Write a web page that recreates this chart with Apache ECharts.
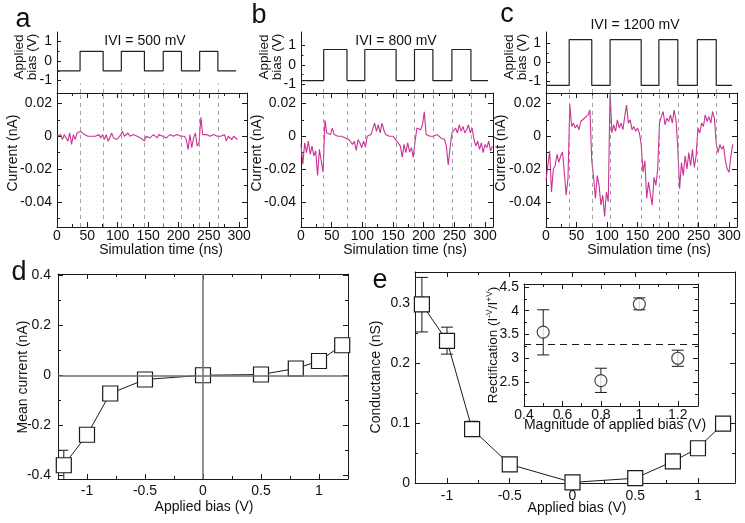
<!DOCTYPE html>
<html>
<head>
<meta charset="utf-8">
<title>Bias pulses, current traces and conductance</title>
<script src="https://cdn.jsdelivr.net/npm/echarts@6/dist/echarts.min.js"></script>
<style>
  html, body { margin: 0; padding: 0; background: #fff; }
  #chart { width: 745px; height: 523px; }
</style>
</head>
<body>
<div id="chart"></div>
<script>
var chart = echarts.init(document.getElementById('chart'));

var FONT = '"Liberation Sans", Arial, Helvetica, sans-serif';
var INK = '#1a1a1a';
var MAGENTA = '#c93394';

// ---- data: current traces (nA), one sample every 3 ns ----
var sampleStep = 3;
var currentA = [
  0, -0.001, 0.001, -0.002, 0.001, 0, -0.003, 0.002, -0.005, 0.001, -0.002, 0.002, 0.001,
  0.003, 0.004, 0.001, 0.002, 0, 0.001, 0, 0.001, 0, 0, 0.001, -0.001,
  0.001, -0.002, 0.001, -0.003, -0.001, 0.002, -0.001, 0, -0.002, -0.003, 0.001,
  0.003, 0, 0.001, 0.002, 0, -0.001, 0.001, 0.002, 0, 0.001, -0.001, 0, -0.003,
  0, 0.001, -0.001, 0, 0.001, 0, -0.001, 0.001, 0, 0,
  0.001, -0.001, 0, 0.001, 0, 0, -0.001, 0.001, 0, 0,
  -0.001, 0, -0.002, -0.008, 0.001, -0.007, -0.001, 0.002, -0.006, -0.004,
  0.0115, 0.001, 0, 0.001, 0, 0, 0, 0.001, 0, 0, 0, 0, -0.001, 0.001, -0.003, 0, 0.001, -0.002, 0, 0.001, -0.002
];
var currentB = [
  -0.005, -0.017, -0.004, -0.01, -0.003, -0.011, -0.006, -0.012, -0.009, -0.024, -0.008, -0.015, -0.022,
  0.0098, 0.002, 0.003, 0.001, 0.005, 0.001, 0.002, 0, 0.001, 0, 0.001, -0.001,
  0, -0.002, -0.001, -0.005, -0.003, -0.0086, -0.002, -0.004, -0.007, -0.003, -0.0066,
  0, 0, 0.001, 0, 0.008, 0.003, 0.007, 0.002, 0.008, 0.004, 0.001, 0, 0, 0.001, 0, 0,
  -0.003, -0.002, -0.006, -0.0127, -0.005, -0.01, -0.004, -0.0096, -0.007, -0.013, -0.003,
  0.005, 0.006, 0.004, 0.007, 0.015, 0.001, 0, 0, 0.001,
  0, -0.001, 0.001, 0, -0.001, 0, -0.002, -0.006, -0.0175, -0.007, 0.002,
  0.003, 0.005, 0.002, 0.007, 0.003, 0.006, 0.002, 0.004, 0.007, 0.002, 0.005,
  -0.002, -0.006, -0.003, -0.008, -0.004, -0.01, -0.005, -0.007, -0.003, -0.009, -0.006
];
var currentC = [
  -0.027, -0.028, -0.009, -0.034, -0.02, -0.018, -0.011, -0.016, -0.012, -0.0096, -0.022, -0.036, -0.026,
  0.0195, 0.006, 0.008, 0.005, 0.007, 0.004, 0.009, 0.008, 0.011, 0.01, 0.013, 0.016,
  -0.015, -0.025, -0.038, -0.024, -0.03, -0.042, -0.036, -0.049, -0.034, -0.04,
  0.027, 0.002, 0.007, 0.003, 0.01, 0.005, 0.008, 0.004, 0.012, 0.019, 0.008, 0.01, 0.004, 0.006, 0.003, 0.005, 0.002,
  -0.005, -0.022, -0.015, -0.038, -0.028, -0.035, -0.042, -0.025, -0.03, -0.02,
  0.008, 0.012, 0.015, 0.007, 0.011, 0.009, 0.013, 0.008, 0.016, 0.01,
  -0.0076, -0.032, -0.016, -0.024, -0.012, -0.02, -0.01, -0.018, -0.008, -0.019, -0.012,
  0.005, 0.002, 0.008, 0.006, 0.013, 0.009, 0.012, 0.008, 0.015, 0.011,
  -0.0045, -0.01, -0.005, -0.008, -0.006, -0.015, -0.02, -0.022, -0.012, -0.005
];

// bias switching times (ns) and pulse heights (V)
var switchA = [38, 76, 106, 144, 175, 205, 235, 265];
var switchB = [37, 75, 104, 155, 185, 215, 246, 277];
var switchC = [38, 75, 105, 156, 185, 216, 248, 279];
var pulseA = 0.5, pulseB = 0.8, pulseC = 1.2;
var pulseEndA = 295, pulseEndB = 305, pulseEndC = 305;

// panel d: mean current vs bias
var biasValues = [-1.2, -1, -0.8, -0.5, 0, 0.5, 0.8, 1, 1.2];
var meanCurrent = [-0.36, -0.238, -0.073, -0.017, 0, 0.003, 0.027, 0.057, 0.12];
var meanErrBias = [-1.2];
var meanErrLow = [-0.42];
var meanErrHigh = [-0.30];

// panel e: conductance vs bias
var conductance = [0.298, 0.237, 0.09, 0.031, 0.001, 0.008, 0.036, 0.058, 0.099];
var condErrBias = [-1.2, -1, -0.8];
var condErrLow = [0.252, 0.215, 0.078];
var condErrHigh = [0.343, 0.26, 0.103];

// inset: rectification vs |V|
var biasMagnitude = [0.5, 0.8, 1.0, 1.2];
var rectification = [3.55, 2.53, 4.14, 3.0];
var rectLow = [3.07, 2.28, 4.02, 2.83];
var rectHigh = [4.02, 2.79, 4.27, 3.17];
var rectMean = 3.3;

// tick values
var timeTicks = [0, 50, 100, 150, 200, 250, 300];
var timeMinor = [25, 75, 125, 175, 225, 275];
var currTicks = [-0.04, -0.02, 0, 0.02];
var currMinor = [-0.05, -0.03, -0.01, 0.01];
var pulseTicks = [-1, 0, 1];
var pulseMinor = [-0.5, 0.5];
var biasTicks = [-1, -0.5, 0, 0.5, 1];
var biasMinor = [-0.75, -0.25, 0.25, 0.75];
var meanTicks = [-0.4, -0.2, 0, 0.2, 0.4];
var meanMinor = [-0.3, -0.1, 0.1, 0.3];
var condTicks = [0, 0.1, 0.2, 0.3];
var condMinor = [0.05, 0.15, 0.25];
var magTicks = [0.4, 0.6, 0.8, 1, 1.2];
var magMinor = [0.5, 0.7, 0.9, 1.1];
var rectTicks = [2.5, 3, 3.5, 4, 4.5];
var rectMinor = [2.25, 2.75, 3.25, 3.75, 4.25];

var grids = [], xAxes = [], yAxes = [], series = [], graphics = [];

function addGrid(left, top, width, height) {
  grids.push({ left: left, top: top, width: width, height: height, outerBoundsMode: 'none', containLabel: false });
  return grids.length - 1;
}

function axis(list, grid, pos, range, ticks, len, labels, margin, hideLine) {
  list.push({
    type: 'value', gridIndex: grid, position: pos, min: range[0], max: range[1],
    axisLine: { show: !hideLine, onZero: false, lineStyle: { color: INK, width: 1 } },
    axisTick: { show: true, inside: true, length: len, customValues: ticks, lineStyle: { color: INK, width: 1 } },
    axisLabel: labels ? { show: true, customValues: labels, margin: margin, color: '#111', fontSize: 14, fontFamily: FONT } : { show: false },
    splitLine: { show: false }
  });
  return list.length - 1;
}

// box with inward ticks on all four sides
function boxAxes(grid, xr, yr, xt, xm, yt, ym, xMargin, yMargin) {
  var xi = axis(xAxes, grid, 'bottom', xr, xt, 5, xt, xMargin);
  axis(xAxes, grid, 'bottom', xr, xm, 3, null, 0, true);
  axis(xAxes, grid, 'top', xr, xt, 5, null, 0);
  axis(xAxes, grid, 'top', xr, xm, 3, null, 0, true);
  var yi = axis(yAxes, grid, 'left', yr, yt, 5, yt, yMargin);
  axis(yAxes, grid, 'left', yr, ym, 3, null, 0, true);
  axis(yAxes, grid, 'right', yr, yt, 5, null, 0);
  axis(yAxes, grid, 'right', yr, ym, 3, null, 0, true);
  return { x: xi, y: yi };
}

function text(x, y, str, size, rot, extra) {
  var st = { text: str, fontSize: size, fontFamily: FONT, fill: '#111', align: 'center', verticalAlign: 'middle' };
  if (extra) for (var k in extra) st[k] = extra[k];
  graphics.push({ type: 'text', x: x, y: y, rotation: rot || 0, style: st, z: 10 });
}

function errorBars(ax, xs, lo, hi, cap) {
  return {
    type: 'custom', xAxisIndex: ax.x, yAxisIndex: ax.y, clip: true, silent: true, z: 1,
    encode: { x: 0, y: [1, 2] },
    data: xs.map(function (x, i) { return [x, lo[i], hi[i]]; }),
    renderItem: function (params, api) {
      var a = api.coord([api.value(0), api.value(1)]);
      var b = api.coord([api.value(0), api.value(2)]);
      var st = { stroke: INK, lineWidth: 1 };
      return { type: 'group', children: [
        { type: 'line', shape: { x1: a[0], y1: a[1], x2: b[0], y2: b[1] }, style: st },
        { type: 'line', shape: { x1: a[0] - cap, y1: a[1], x2: a[0] + cap, y2: a[1] }, style: st },
        { type: 'line', shape: { x1: b[0] - cap, y1: b[1], x2: b[0] + cap, y2: b[1] }, style: st }
      ] };
    }
  };
}

function pulseTrain(switches, height, end) {
  var pts = [[0, -height]];
  switches.forEach(function (t, i) { pts.push([t, i % 2 === 0 ? height : -height]); });
  pts.push([end, pts[pts.length - 1][1]]);
  return pts;
}

// ---- panels a, b, c ----
var timePanels = [
  { letter: 'a', lx: 23, ly: 20, left: 57, width: 190, current: currentA, switches: switchA, pulse: pulseA, end: pulseEndA,
    pulseRange: [-1.64, 1.49], dashTop: -1.15, title: 'IVI = 500 mV', tx: 145, ty: 41, bx: 26, cx: 13, sx: 161 },
  { letter: 'b', lx: 259, ly: 16, left: 301, width: 192, current: currentB, switches: switchB, pulse: pulseB, end: pulseEndB,
    pulseRange: [-1.44, 1.70], dashTop: -1.05, title: 'IVI = 800 mV', tx: 396, ty: 41, bx: 271, cx: 257, sx: 405 },
  { letter: 'c', lx: 507, ly: 15, left: 546, width: 191, current: currentC, switches: switchC, pulse: pulseC, end: pulseEndC,
    pulseRange: [-1.6, 1.6], dashTop: -1.25, title: 'IVI = 1200 mV', tx: 635, ty: 25, bx: 516, cx: 501, sx: 649 }
];
var timeRange = [0, 313];

timePanels.forEach(function (p) {
  // applied bias strip
  var g1 = addGrid(p.left, 32, p.width, 61);
  xAxes.push({ type: 'value', gridIndex: g1, min: timeRange[0], max: timeRange[1], show: false });
  var bx = xAxes.length - 1;
  var by = axis(yAxes, g1, 'left', p.pulseRange, pulseTicks, 4, pulseTicks, 5);
  axis(yAxes, g1, 'left', p.pulseRange, pulseMinor, 2.5, null, 0, true);
  series.push({
    type: 'line', xAxisIndex: bx, yAxisIndex: by, step: 'end', symbol: 'none', silent: true,
    data: pulseTrain(p.switches, p.pulse, p.end),
    lineStyle: { color: '#222', width: 1.2 },
    markLine: { silent: true, symbol: 'none', label: { show: false },
      lineStyle: { type: [4, 4], color: '#8a8a8a', width: 0.8 },
      data: p.switches.map(function (t) { return [{ coord: [t, p.pulseRange[0]] }, { coord: [t, p.dashTop] }]; }) }
  });

  // current trace
  var g2 = addGrid(p.left, 93, p.width, 134);
  var ax = boxAxes(g2, timeRange, [-0.0554, 0.0264], timeTicks, timeMinor, currTicks, currMinor, 2, 5);
  series.push({
    type: 'line', xAxisIndex: ax.x, yAxisIndex: ax.y, symbol: 'none', silent: true,
    data: p.current.map(function (v, i) { return [i * sampleStep, v]; }),
    lineStyle: { color: MAGENTA, width: 1.1 },
    markLine: { silent: true, symbol: 'none', label: { show: false },
      lineStyle: { type: [4, 4], color: '#8a8a8a', width: 0.8 },
      data: p.switches.map(function (t) { return { xAxis: t }; }) }
  });

  text(p.lx, p.ly, p.letter, 27);
  text(p.tx, p.ty, p.title, 14);
  text(p.bx, 57, 'Applied\nbias (V)', 13.5, Math.PI / 2, { lineHeight: 13 });
  text(p.cx, 153, 'Current (nA)', 14, Math.PI / 2);
  text(p.sx, 250, 'Simulation time (ns)', 14);
});

// ---- panel d ----
var gd = addGrid(58, 274, 290, 205);
var axd = boxAxes(gd, [-1.25, 1.25], [-0.415, 0.405], biasTicks, biasMinor, meanTicks, meanMinor, 5, 7);
series.push({
  type: 'line', xAxisIndex: axd.x, yAxisIndex: axd.y, data: [], silent: true, z: 0,
  markLine: { silent: true, symbol: 'none', label: { show: false },
    lineStyle: { type: 'solid', color: '#6e6e6e', width: 1.5 },
    data: [{ xAxis: 0 }, { yAxis: 0 }] }
});
series.push(errorBars(axd, meanErrBias, meanErrLow, meanErrHigh, 4.5));
series.push({
  type: 'line', xAxisIndex: axd.x, yAxisIndex: axd.y, z: 3, silent: true,
  data: biasValues.map(function (b, i) { return [b, meanCurrent[i]]; }),
  symbol: 'rect', symbolSize: 15, showAllSymbol: true,
  lineStyle: { color: INK, width: 1 },
  itemStyle: { color: '#fff', borderColor: INK, borderWidth: 1.2 }
});
text(19, 273, 'd', 27);
text(23, 377, 'Mean current (nA)', 14, Math.PI / 2);
text(204, 507, 'Applied bias (V)', 14);

// ---- panel e ----
var ge = addGrid(415, 272, 320, 211);
var axe = boxAxes(ge, [-1.255, 1.295], [0, 0.352], biasTicks, biasMinor, condTicks, condMinor, 6, 5);
series.push(errorBars(axe, condErrBias, condErrLow, condErrHigh, 6));
series.push({
  type: 'line', xAxisIndex: axe.x, yAxisIndex: axe.y, z: 3, silent: true, clip: false,
  data: biasValues.map(function (b, i) { return [b, conductance[i]]; }),
  symbol: 'rect', symbolSize: 15, showAllSymbol: true,
  lineStyle: { color: INK, width: 1 },
  itemStyle: { color: '#fff', borderColor: INK, borderWidth: 1.2 }
});
text(380, 281, 'e', 27);
text(376, 377, 'Conductance (nS)', 14, Math.PI / 2);
text(577, 508, 'Applied bias (V)', 14);

// inset
var gi = addGrid(524, 284, 174, 122);
var axi = boxAxes(gi, [0.4, 1.305], [1.995, 4.563], magTicks, magMinor, rectTicks, rectMinor, 2, 5);
series.push(errorBars(axi, biasMagnitude, rectLow, rectHigh, 6));
series.push({
  type: 'scatter', xAxisIndex: axi.x, yAxisIndex: axi.y, z: 3, silent: true,
  data: biasMagnitude.map(function (b, i) { return [b, rectification[i]]; }),
  symbol: 'circle', symbolSize: 12,
  itemStyle: { color: '#fff', borderColor: INK, borderWidth: 1.2 },
  markLine: { silent: true, symbol: 'none', label: { show: false },
    lineStyle: { type: [7, 5], color: INK, width: 1.2 },
    data: [{ yAxis: rectMean }] }
});
text(615, 425, 'Magnitude of applied bias (V)', 14);
graphics.push({
  type: 'text', x: 493, y: 345, rotation: Math.PI / 2, z: 10,
  style: {
    text: '{n|Rectification (I}{s|-V}{n|/I}{s|+V}{n|)}',
    align: 'center', verticalAlign: 'middle',
    rich: {
      n: { fontSize: 13.5, fontFamily: FONT, fill: '#111', verticalAlign: 'bottom', lineHeight: 15 },
      s: { fontSize: 8.5, fontFamily: FONT, fill: '#111', verticalAlign: 'top', lineHeight: 15 }
    }
  }
});

chart.setOption({
  animation: false,
  grid: grids,
  xAxis: xAxes,
  yAxis: yAxes,
  series: series,
  graphic: graphics
});
</script>
</body>
</html>
